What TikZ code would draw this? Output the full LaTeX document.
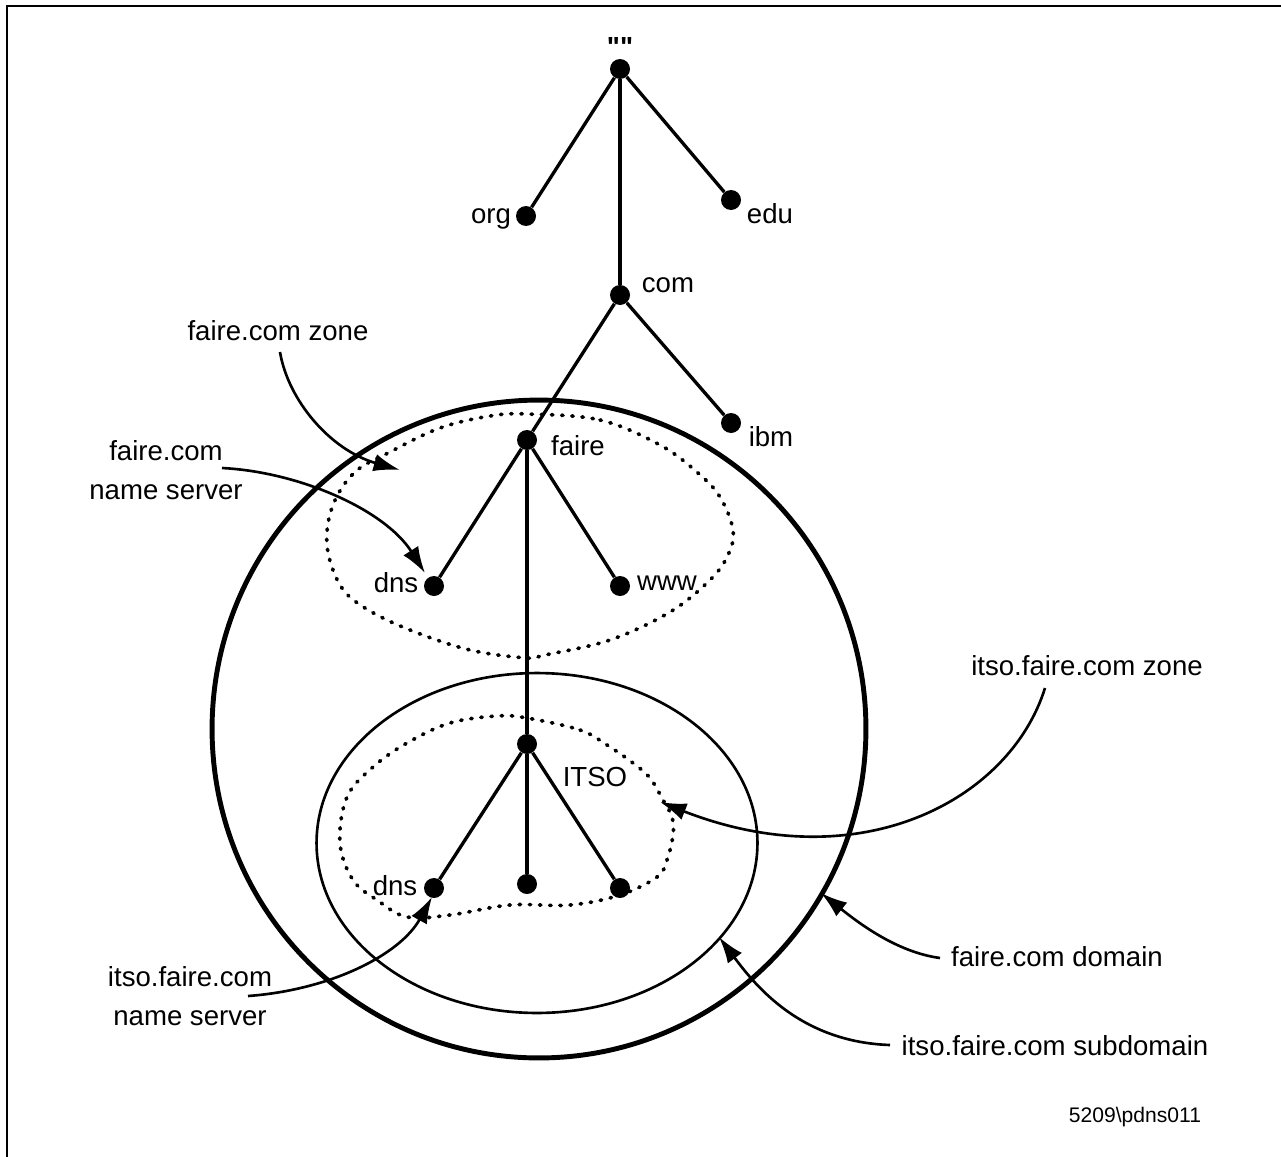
\documentclass[tikz,border=0pt]{standalone}
\usepackage{fontspec}
\setmainfont{Liberation Sans}
\newfontfamily\qfont[Ligatures=TeXOff]{Liberation Sans}
\usetikzlibrary{arrows.meta}
\begin{document}
\begin{tikzpicture}[x=0.02cm,y=-0.02cm,
 dotn/.style={circle,fill,inner sep=0pt,minimum size=0.4cm},
 tree/.style={line width=1.9pt},
 lbl/.style={font=\fontsize{15.7}{22.5}\selectfont,inner sep=0pt,align=center},
 small/.style={font=\fontsize{12}{14}\selectfont,inner sep=0pt},
 zone/.style={line width=2.1pt,dash pattern=on 0.8pt off 5pt,line cap=round},
 callout/.style={line width=1.5pt,-{Latex[length=15pt,width=10pt]}}]
\useasboundingbox (0,0) rectangle (1281,1156);
\draw[line width=1.2pt] (7,1170) -- (7,6) -- (1290,6);

% domain circles
\draw[line width=2.8pt] (539,729) ellipse [x radius=6.54cm, y radius=6.58cm];
\draw[line width=1.5pt] (537,843) ellipse [x radius=4.41cm, y radius=3.4cm];

% zones
\draw[zone] plot[smooth cycle,tension=0.6] coordinates {
 (527,414) (600,420) (660,445) (698,473) (720,497) (733,530) (728,555)
 (710,580) (670,612) (610,640) (545,655) (527,658) (470,650) (410,630)
 (365,608) (340,585) (327,545) (333,505) (355,472) (390,452) (440,428) (490,416)};
\draw[zone] plot[smooth cycle,tension=0.6] coordinates {
 (527,718) (580,730) (607,745) (633,763) (650,778) (663,800) (672,817)
 (673,835) (667,860) (657,877) (620,895) (570,905) (510,905) (450,915)
 (407,917) (377,900) (353,880) (340,843) (347,797) (373,767) (407,743) (450,723) (497,716)};

% tree nodes
\node[dotn] (root) at (620,69) {};
\node[dotn] (org) at (526,216) {};
\node[dotn] (edu) at (731,200) {};
\node[dotn] (com) at (620,295) {};
\node[dotn] (ibm) at (731,423) {};
\node[dotn] (faire) at (527,440) {};
\node[dotn] (dns) at (434,586) {};
\node[dotn] (www) at (620,586) {};
\node[dotn] (itso) at (527,744) {};
\node[dotn] (dnsb) at (434,888) {};
\node[dotn] (midc) at (527,884) {};
\node[dotn] (rgtc) at (620,888) {};

\draw[tree] (root) -- (org);
\draw[tree] (root) -- (edu);
\draw[tree] (root) -- (com);
\draw[tree] (com) -- (faire);
\draw[tree] (com) -- (ibm);
\draw[tree] (faire) -- (dns);
\draw[tree] (faire) -- (www);
\draw[tree] (faire) -- (itso);
\draw[tree] (itso) -- (dnsb);
\draw[tree] (itso) -- (midc);
\draw[tree] (itso) -- (rgtc);

% tree labels
\node[lbl] (lroot) at (620,47) {\qfont\bfseries ""};
\node[lbl] (lorg) at (491,219) {org};
\node[lbl] (ledu) at (770,214) {edu};
\node[lbl] (lcom) at (668,285) {com};
\node[lbl] (libm) at (771,437) {ibm};
\node[lbl] (lfaire) at (578,446) {faire};
\node[lbl] (ldns) at (396,583) {dns};
\node[lbl] (lwww) at (667,583) {www};
\node[lbl] (litso) at (595,777) {ITSO};
\node[lbl] (ldnsb) at (395,886) {dns};

% callout labels
\node[lbl] (tzone) at (278,331) {faire.com zone};
\node[lbl] (tns) at (166,470) {faire.com\\name server};
\node[lbl] (tizone) at (1087,666) {itso.faire.com zone};
\node[lbl] (tdom) at (1057,957) {faire.com domain};
\node[lbl] (tsub) at (1055,1046) {itso.faire.com subdomain};
\node[lbl] (tins) at (190,996) {itso.faire.com\\name server};
\node[small] (tid) at (1135,1117) {5209\textbackslash pdns011};

% callout arrows
\coordinate (a1) at (400,470);
\coordinate (a2) at (425,573);
\coordinate (a3) at (660,802);
\coordinate (a4) at (821,893);
\coordinate (a5) at (719,937);
\coordinate (a6) at (432,897);
\draw[callout] (280,352) .. controls (288,400) and (330,450) .. (a1);
\draw[callout] (222,468) .. controls (300,472) and (385,510) .. (a2);
\draw[callout] (1045,688) .. controls (1010,800) and (860,880) .. (a3);
\draw[callout] (940,958) .. controls (895,952) and (855,920) .. (a4);
\draw[callout] (890,1045) .. controls (800,1042) and (755,985) .. (a5);
\draw[callout] (248,996) .. controls (330,990) and (400,955) .. (a6);
\end{tikzpicture}
\end{document}
